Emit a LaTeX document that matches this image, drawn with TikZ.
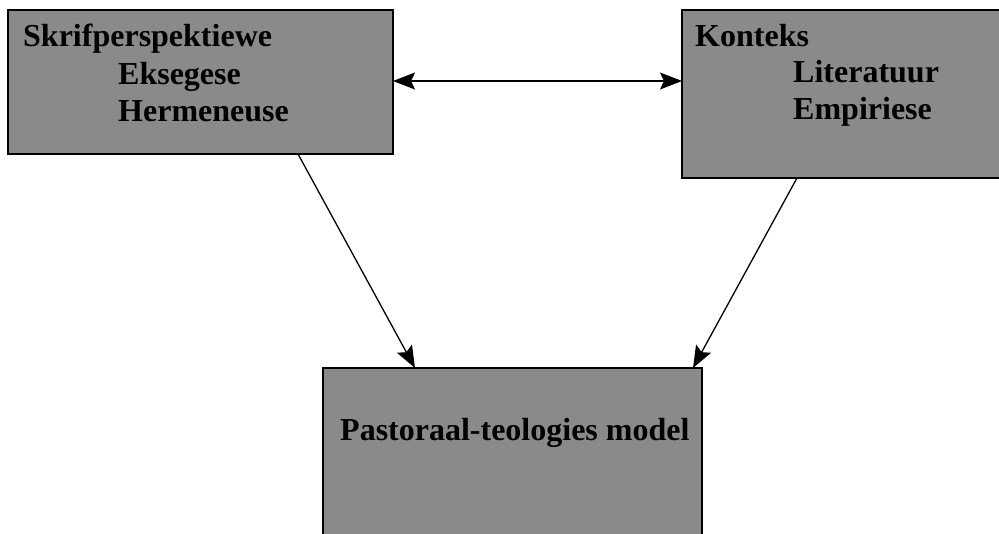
\documentclass[tikz,border=0pt]{standalone}
\usepackage{fontspec}
\setmainfont{Liberation Serif}
\usetikzlibrary{arrows.meta}
\definecolor{boxgray}{RGB}{138,138,138}
\tikzset{tipshape/.tip={Stealth[length=22pt,width=17pt,inset=4pt]}}
\begin{document}
\begin{tikzpicture}[x=1pt,y=-1pt,
  box/.style={draw=black,line width=1.6pt,fill=boxgray,inner sep=0pt,outer sep=0pt},
  lbl/.style={anchor=base west,inner sep=0pt,font=\fontsize{32}{38}\selectfont\bfseries},
  arr/.style={line width=1.3pt,-tipshape},
  arrboth/.style={line width=1.3pt,tipshape-tipshape}]
\useasboundingbox (0,0) rectangle (999,534);
\fill[white] (0,0) rectangle (999,534);
\node[box,minimum width=385pt,minimum height=144pt] (lbox) at (200.5,82) {};
\node[box,minimum width=320pt,minimum height=168pt] (rbox) at (842,94) {};
\node[box,minimum width=379pt,minimum height=180pt] (bbox) at (512.5,458) {};
\node[lbl] (t1) at (23,47) {Skrifperspektiewe};
\node[lbl] (t2) at (118,85) {Eksegese};
\node[lbl] (t3) at (118,122) {Hermeneuse};
\node[lbl] (t4) at (695,47) {Konteks};
\node[lbl] (t5) at (793,83) {Literatuur};
\node[lbl] (t6) at (793,120) {Empiriese};
\node[lbl] (t7) at (340,441) {Pastoraal-teologies model};
\draw[arrboth] ([yshift=1pt]lbox.east) -- ([yshift=1pt]lbox.east -| rbox.west);
\draw[arr] ([xshift=97.5pt]lbox.south) -- ([xshift=-97.5pt]bbox.north);
\draw[arr] ([xshift=-45pt]rbox.south) -- ([xshift=180.5pt]bbox.north);
\end{tikzpicture}
\end{document}
